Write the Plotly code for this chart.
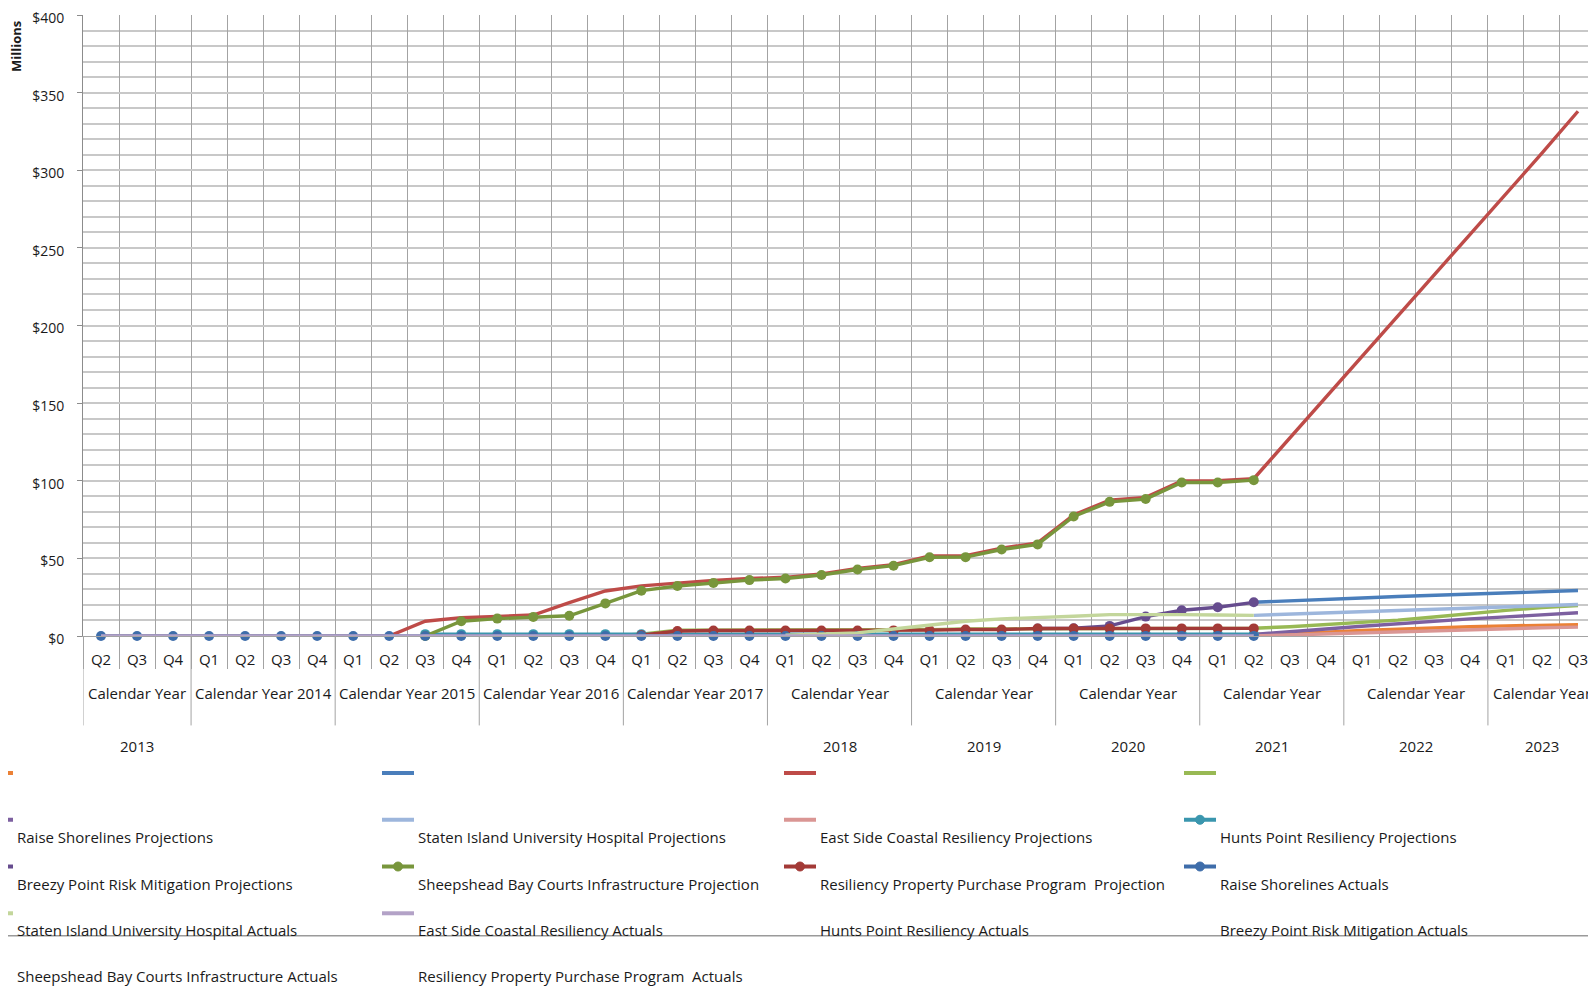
import plotly.graph_objects as go

# ---------------- data ----------------
quarters = ["Q2", "Q3", "Q4",
            "Q1", "Q2", "Q3", "Q4", "Q1", "Q2", "Q3", "Q4",
            "Q1", "Q2", "Q3", "Q4", "Q1", "Q2", "Q3", "Q4",
            "Q1", "Q2", "Q3", "Q4", "Q1", "Q2", "Q3", "Q4",
            "Q1", "Q2", "Q3", "Q4", "Q1", "Q2", "Q3", "Q4",
            "Q1", "Q2", "Q3", "Q4",
            "Q1", "Q2", "Q3"]
quarter_years = ([2013] * 3 + [2014] * 4 + [2015] * 4 + [2016] * 4 + [2017] * 4 + [2018] * 4
                 + [2019] * 4 + [2020] * 4 + [2021] * 4 + [2022] * 4 + [2023] * 3)
categories = [f"{y} {q}" for y, q in zip(quarter_years, quarters)]

group_labels = ["Calendar Year", "Calendar Year 2014", "Calendar Year 2015", "Calendar Year 2016",
                "Calendar Year 2017", "Calendar Year", "Calendar Year", "Calendar Year",
                "Calendar Year", "Calendar Year", "Calendar Year"]
group_years = ["2013", "", "", "", "", "2018", "2019", "2020", "2021", "2022", "2023"]
group_years_key = [2013, 2014, 2015, 2016, 2017, 2018, 2019, 2020, 2021, 2022, 2023]

y_tick_values = [0, 50, 100, 150, 200, 250, 300, 350, 400]
y_tick_labels = ["$0", "$50", "$100", "$150", "$200", "$250", "$300", "$350", "$400"]

N = None
raise_proj = [N] * 32 + [1.0, 1.5, 2.5, 3.5, 4.5, 5.3, 6.0, 6.5, 7.0, 7.3]
staten_proj = [N] * 32 + [21.7, 22.8, 23.4, 24.5, 25.4, 26.1, 27.0, 27.8, 28.5, 29.3]
eastside_proj = [0, 0, 0, 0, 0, 0, 0, 0, 0, 9.5, 11.8, 12.6, 13.5, 21.5, 29.0, 32.3, 34.3, 35.8,
                 37.0, 37.8, 40.0, 43.5, 46.0, 51.5, 51.8, 56.5, 60.0, 78.0, 87.5, 89.3, 99.8,
                 100.0, 101.3, 127.5, 154.0, 180.0, 206.0, 232.0, 259.0, 285.0, 311.0, 338.0]
hunts_proj = [N] * 14 + [0, 1.2, 3.8, 3.8, 3.8, 3.8, 3.8, 3.8, 3.8, 4.1, 4.5, 4.5, 5.0, 5.0,
                         5.0, 5.0, 5.0, 5.0, 5.0, 6.0, 7.3, 8.7, 10.2, 12.2, 14.5, 16.5, 18.3, 19.6]
breezy_proj = [N] * 32 + [1.0, 2.5, 4.5, 6.3, 8.0, 9.5, 11.0, 12.3, 13.6, 15.0]
sheeps_proj = [N] * 32 + [13.3, 14.1, 14.9, 15.7, 16.5, 17.3, 18.0, 18.8, 19.5, 20.3]
rppp_proj = [N] * 32 + [0.0, 0.7, 1.4, 2.1, 2.8, 3.5, 4.2, 4.8, 5.3, 5.7]

raise_act = [N] * 9 + [1.2] * 24 + [N] * 9
staten_act = [N] * 26 + [4.8, 5.0, 6.5, 12.5, 16.6, 18.5, 21.7] + [N] * 9
eastside_act = [N] * 9 + [0, 9.5, 11.2, 12.3, 13.0, 21.0, 29.2, 32.2, 34.2, 36.0, 37.0, 39.3,
                          42.8, 45.3, 50.7, 50.8, 55.7, 59.0, 77.0, 86.4, 88.2, 98.9, 98.9,
                          100.4] + [N] * 9
hunts_act = [N] * 15 + [0.5, 3.2, 3.5, 3.5, 3.5, 3.5, 3.5, 3.6, 3.8, 4.2, 4.2, 4.8, 4.8, 4.9,
                        4.9, 4.9, 4.9, 4.9] + [N] * 9
breezy_act = [0] * 33 + [N] * 9
sheeps_act = [N] * 19 + [0.5, 1.0, 2.0, 4.5, 7.2, 9.5, 11.0, 11.7, 12.7, 13.8, 14.0, 13.8,
                         13.5, 13.3] + [N] * 9
rppp_act = [0] * 33 + [N] * 9

series_names = ["Raise Shorelines Projections", "Staten Island University Hospital Projections",
                "East Side Coastal Resiliency Projections", "Hunts Point Resiliency Projections",
                "Breezy Point Risk Mitigation Projections",
                "Sheepshead Bay Courts Infrastructure Projection",
                "Resiliency Property Purchase Program  Projection", "Raise Shorelines Actuals",
                "Staten Island University Hospital Actuals", "East Side Coastal Resiliency Actuals",
                "Hunts Point Resiliency Actuals", "Breezy Point Risk Mitigation Actuals",
                "Sheepshead Bay Courts Infrastructure Actuals",
                "Resiliency Property Purchase Program  Actuals"]
series_values = [raise_proj, staten_proj, eastside_proj, hunts_proj, breezy_proj, sheeps_proj,
                 rppp_proj, raise_act, staten_act, eastside_act, hunts_act, breezy_act,
                 sheeps_act, rppp_act]
series_colors = ["#EB8136", "#4A7EBB", "#BE4B48", "#98B954", "#7D60A0", "#9DB6DC", "#DA9694",
                 "#3A96AE", "#664C8E", "#78963C", "#A33A37", "#3E6DAA", "#C3D69B", "#B3A2C7"]
series_markers = [False, False, False, False, False, False, False,
                  True, True, True, True, True, False, False]

# ---------------- layout geometry (page pixels; the page body has an 8px margin) ----------------
OFF = 8
W, H = 1596 - OFF, 988 - OFF
PLOT_L, PLOT_R, PLOT_T, PLOT_B = 83, 1596, 15, 636.5   # plot area in page pixels
ML, MR, MT = PLOT_L - OFF, 0, PLOT_T - OFF
MB = H - (PLOT_B - OFF)
PW = W - ML - MR
PH = H - MT - MB
FONT = "Open Sans"
FS = 15
TXT = "#1a1a1a"
GRIDV = "#a3a3a3"
GRIDH = "#c8c8c8"


def px_x(px):
    return (px - OFF - ML) / PW


def px_y(py):
    return (H - MB - (py - OFF)) / PH


fig = go.Figure()
for name, vals, col, mk in zip(series_names, series_values, series_colors, series_markers):
    fig.add_trace(go.Scatter(
        x=categories, y=vals, name=name, mode="lines+markers" if mk else "lines",
        line=dict(color=col, width=3.4),
        marker=dict(color=col, size=10) if mk else None,
        cliponaxis=False, showlegend=False, connectgaps=False,
    ))

shapes = []
annotations = []

# group dividers and labels on the category axis
starts = [quarter_years.index(y) for y in group_years_key]
ends = [len(quarter_years) - 1 - quarter_years[::-1].index(y) for y in group_years_key]
for s in starts:
    shapes.append(dict(type="line", xref="x", yref="paper", x0=s - 0.5, x1=s - 0.5,
                       y0=0, y1=px_y(726), line=dict(color=GRIDV, width=1)))
for s, e, lab, yr in zip(starts, ends, group_labels, group_years):
    c = (s + e) / 2
    annotations.append(dict(xref="x", yref="paper", x=c, y=px_y(694), text=lab,
                            showarrow=False, xanchor="center", yanchor="middle",
                            font=dict(family=FONT, size=FS, color=TXT)))
    if yr:
        annotations.append(dict(xref="x", yref="paper", x=c, y=px_y(747), text=yr,
                                showarrow=False, xanchor="center", yanchor="middle",
                                font=dict(family=FONT, size=FS, color=TXT)))

# y axis title
annotations.append(dict(xref="paper", yref="paper", x=px_x(16), y=px_y(47), text="<b>Millions</b>",
                        textangle=-90, showarrow=False, xanchor="center", yanchor="middle",
                        font=dict(family=FONT, size=13, color=TXT)))

# custom legend (symbols and labels as laid out in the source)
sym_x = [-19, 382, 784, 1184]
sym_y = [773.6, 820.4, 867.2, 914.0]
lab_y = [837.7, 884.5, 930.4, 977.2]
for k, (name, col, mk) in enumerate(zip(series_names, series_colors, series_markers)):
    r, c = divmod(k, 4)
    x0 = sym_x[c]
    shapes.append(dict(type="line", xref="paper", yref="paper", x0=px_x(x0), x1=px_x(x0 + 32),
                       y0=px_y(sym_y[r]), y1=px_y(sym_y[r]), line=dict(color=col, width=4)))
    if mk:
        shapes.append(dict(type="circle", xref="paper", yref="paper", xsizemode="pixel",
                           ysizemode="pixel", xanchor=px_x(x0 + 16), yanchor=px_y(sym_y[r]),
                           x0=-4.5, x1=4.5, y0=-4.5, y1=4.5, fillcolor=col,
                           line=dict(color=col, width=1)))
    annotations.append(dict(xref="paper", yref="paper", x=px_x(x0 + 34), y=px_y(lab_y[r]),
                            text=name.replace("  ", "&nbsp; "), showarrow=False,
                            xanchor="left", yanchor="middle",
                            font=dict(family=FONT, size=FS, color=TXT)))

shapes.append(dict(type="line", xref="paper", yref="paper", x0=px_x(0), x1=px_x(1596),
                   y0=px_y(936.5), y1=px_y(936.5), line=dict(color="#9a9a9a", width=1.5)))

fig.update_layout(
    width=W, height=H, margin=dict(l=ML, r=MR, t=MT, b=MB, autoexpand=False),
    paper_bgcolor="white", plot_bgcolor="white",
    font=dict(family=FONT, size=FS, color=TXT),
    shapes=shapes, annotations=annotations, showlegend=False,
    xaxis=dict(type="category", categoryorder="array", categoryarray=categories,
               range=[-0.5, len(categories) - 0.5], tickson="boundaries",
               tickmode="array", tickvals=categories, ticktext=quarters, tickangle=0,
               showgrid=True, gridcolor=GRIDV, gridwidth=1.3,
               ticks="outside", ticklen=32, tickcolor=GRIDV, tickwidth=1,
               ticklabelstandoff=10, showline=True, linecolor=GRIDV, linewidth=1,
               zeroline=False, tickfont=dict(family=FONT, size=FS, color=TXT)),
    yaxis=dict(range=[0, 400.001], tickmode="array", tickvals=y_tick_values,
               ticktext=y_tick_labels, showgrid=True, gridcolor=GRIDH, gridwidth=1.6,
               minor=dict(dtick=10, showgrid=True, gridcolor=GRIDH, gridwidth=1.6),
               ticks="outside", ticklen=5, tickcolor="#8c8c8c", showline=True,
               linecolor="#8c8c8c", linewidth=1, zeroline=False, ticklabelstandoff=10,
               ticklabelshift=3, ticklabeloverflow="allow",
               tickfont=dict(family=FONT, size=14, color=TXT)),
)

fig.write_html("out.html")
